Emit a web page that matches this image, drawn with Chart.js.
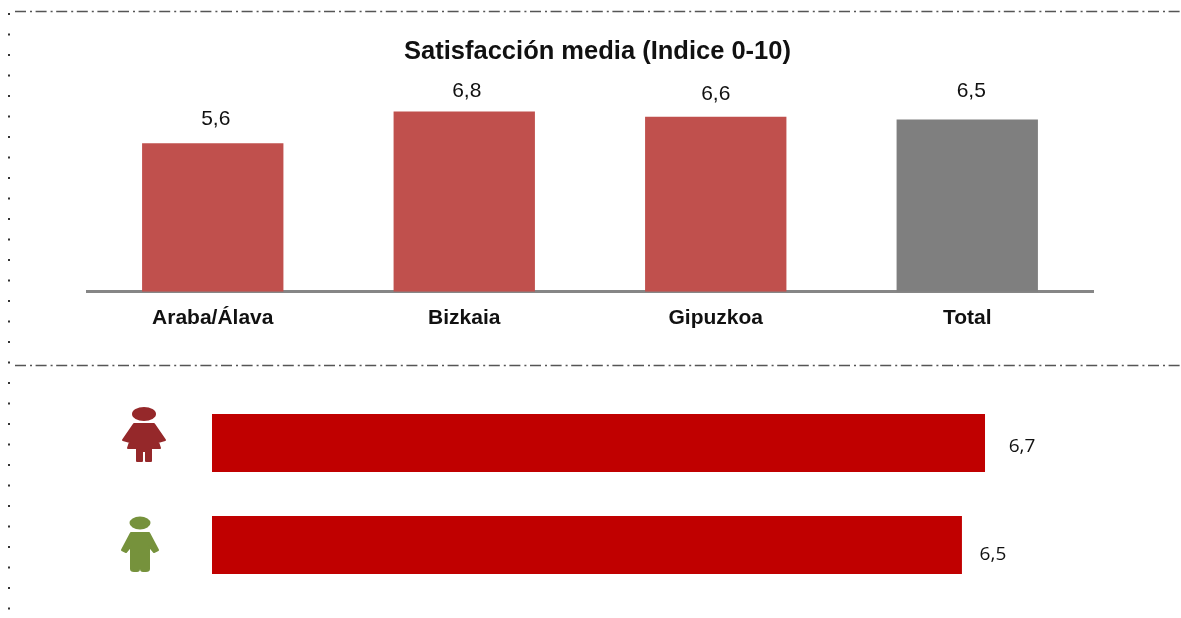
<!DOCTYPE html>
<html>
<head>
<meta charset="utf-8">
<title>Satisfacción media</title>
<script src="https://cdn.jsdelivr.net/npm/chart.js@4/dist/chart.umd.min.js"></script>
<style>
  body { margin: 0; background: #fff; width: 1181px; height: 618px; overflow: hidden; position: relative; }
  canvas, svg { position: absolute; left: 0; }
</style>
</head>
<body>
<!-- dashed frame lines and the two person icons -->
<svg width="1181" height="618" style="top:0">
  <g stroke="#555" stroke-width="1.5" fill="none">
    <line x1="15" y1="11.5" x2="1180" y2="11.5" stroke-dasharray="11 4 2 3.6"/>
    <line x1="15" y1="365.5" x2="1180" y2="365.5" stroke-dasharray="11 4 2 3.6"/>
    <line x1="9" y1="13" x2="9" y2="618" stroke="#333" stroke-width="2" stroke-dasharray="2 18.5"/>
  </g>
  <g fill="#95282A">
    <ellipse cx="144" cy="414" rx="12" ry="7"/>
    <path d="M134 424 H154 L165 440 L158 442 L160 448 H151 V461 H146 V451 H142 V461 H137 V448 H128 L130 442 L123 440 Z" stroke="#95282A" stroke-width="2" stroke-linejoin="round"/>
  </g>
  <g fill="#76923C">
    <ellipse cx="140" cy="523" rx="10.5" ry="6.5"/>
    <path d="M131 533 H149 L158 550 L154 552 L149 546 V569 Q149 571 146 571 H143 Q141 571 141 569 V553 H139 V569 Q139 571 137 571 H134 Q131 571 131 569 V546 L126 552 L122 550 Z" stroke="#76923C" stroke-width="2" stroke-linejoin="round"/>
  </g>
</svg>
<canvas id="province-chart" width="1181" height="360" style="top:0"></canvas>
<canvas id="gender-chart" width="1181" height="204" style="top:392px"></canvas>

<script>
// Chart data
const provinces = ['Araba/Álava', 'Bizkaia', 'Gipuzkoa', 'Total'];
const provinceValues = [5.6, 6.8, 6.6, 6.5];
const provinceColors = ['#C0504D', '#C0504D', '#C0504D', '#7F7F7F'];

const genders = ['Mujeres', 'Hombres'];
const genderValues = [6.7, 6.5];

const sansFont = '"Liberation Sans", Arial, sans-serif';

// Spanish style decimals
const formatValue = (v) => v.toFixed(1).replace('.', ',');

// Title sits a bit right of the plot centre in the original
const shiftTitle = {
    id: 'shiftTitle',
    beforeDraw(chart) {
        chart.titleBlock.left += 7.5;
        chart.titleBlock.right += 7.5;
    }
};

// Value labels over the columns, they are not evenly placed in the original
const columnLabels = {
    id: 'columnLabels',
    afterDatasetsDraw(chart) {
        const ctx = chart.ctx;
        const bars = chart.getDatasetMeta(0).data;
        const gaps = [[3, -24], [2.5, -20], [0, -22.6], [4, -28.2]];
        ctx.save();
        ctx.font = '21px ' + sansFont;
        ctx.fillStyle = '#111';
        ctx.textAlign = 'center';
        ctx.textBaseline = 'middle';
        bars.forEach((bar, i) => {
            ctx.fillText(formatValue(provinceValues[i]), bar.x + gaps[i][0], bar.y + gaps[i][1]);
        });
        ctx.restore();
    }
};

// Value labels right of the horizontal bars
const barLabels = {
    id: 'barLabels',
    afterDatasetsDraw(chart) {
        const ctx = chart.ctx;
        const bars = chart.getDatasetMeta(0).data;
        const gaps = [[37, 4], [31, 10]];
        ctx.save();
        ctx.font = '19px "Open Sans", sans-serif';
        ctx.fillStyle = '#111';
        ctx.textAlign = 'center';
        ctx.textBaseline = 'middle';
        bars.forEach((bar, i) => {
            ctx.fillText(formatValue(genderValues[i]), bar.x + gaps[i][0], bar.y + gaps[i][1]);
        });
        ctx.restore();
    }
};

new Chart(document.getElementById('province-chart'), {
    type: 'bar',
    data: {
        labels: provinces,
        datasets: [{
            data: provinceValues,
            backgroundColor: provinceColors,
            categoryPercentage: 1,
            barPercentage: 0.562
        }]
    },
    options: {
        responsive: false,
        animation: false,
        layout: { padding: { left: 87, right: 88, top: 0, bottom: 16 } },
        plugins: {
            legend: { display: false },
            tooltip: { enabled: false },
            title: {
                display: true,
                text: 'Satisfacción media (Indice 0-10)',
                color: '#111',
                font: { family: sansFont, size: 25.5, weight: 'bold' },
                padding: { top: 37, bottom: 12 }
            }
        },
        scales: {
            x: {
                grid: { display: false, drawTicks: false },
                border: { color: '#868686', width: 3 },
                ticks: {
                    color: '#111',
                    padding: 13.5,
                    maxRotation: 0,
                    font: { family: sansFont, size: 21, weight: 'bold' }
                }
            },
            y: { display: false, min: 0, max: 8 }
        }
    },
    plugins: [shiftTitle, columnLabels]
});

new Chart(document.getElementById('gender-chart'), {
    type: 'bar',
    data: {
        labels: genders,
        datasets: [{
            data: genderValues,
            backgroundColor: '#C00000',
            categoryPercentage: 1,
            barPercentage: 0.57
        }]
    },
    options: {
        indexAxis: 'y',
        responsive: false,
        animation: false,
        layout: { padding: { left: 212, right: 46 } },
        plugins: {
            legend: { display: false },
            tooltip: { enabled: false }
        },
        scales: {
            x: { display: false, min: 0, max: 8 },
            y: { display: false }
        }
    },
    plugins: [barLabels]
});
</script>
</body>
</html>
